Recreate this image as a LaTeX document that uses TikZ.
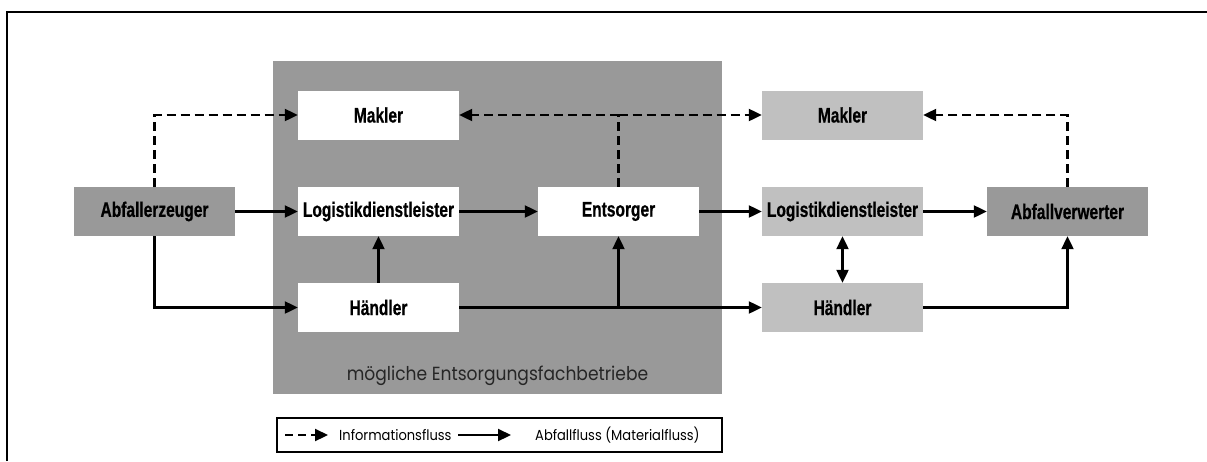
\documentclass[tikz,border=0pt]{standalone}
\usepackage{fontspec}
\usetikzlibrary{arrows.meta}
\newfontfamily\boxfont{Liberation Sans}[FakeStretch=0.74, FakeBold=0.6]
\newfontfamily\plainfont{Poppins}[FakeStretch=0.9]
\definecolor{darkgrey}{HTML}{999999}
\definecolor{lightgrey}{HTML}{C0C0C0}
\tikzset{
  actor/.style={minimum width=161pt, minimum height=49pt, inner sep=0pt,
    font=\boxfont\bfseries\fontsize{21}{21}\selectfont, text=black},
  whitebox/.style={actor, fill=white},
  darkbox/.style={actor, fill=darkgrey},
  lightbox/.style={actor, fill=lightgrey},
  flow/.style={line width=2.2pt, -{Triangle[length=13pt,width=12pt]}},
  info/.style={flow, dash pattern=on 9pt off 5pt},
  plainline/.style={line width=2.2pt},
}
\begin{document}
\begin{tikzpicture}[x=1pt,y=-1pt]
\useasboundingbox (0,0) rectangle (1207,461);
% open frame: top and left edge
\draw[line width=2.5pt] (7,461) -- (7,12) -- (1207,12);
% group of possible waste management companies
\fill[darkgrey] (273,61) rectangle (722,394);
\node[font=\plainfont\fontsize{19}{19}\selectfont, text=black!85] (grp) at (497.5,376) {mögliche Entsorgungsfachbetriebe};

% actors
\node[darkbox]  (erz)  at (154.5,211.5) {Abfallerzeuger};
\node[whitebox] (mak1) at (378.5,115)   {Makler};
\node[whitebox] (log1) at (378.5,211.5) {Logistikdienstleister};
\node[whitebox] (hd1)  at (378.5,307.5) {Händler};
\node[whitebox] (ent)  at (618.5,211.5) {Entsorger};
\node[lightbox] (mak2) at (842.5,115)   {Makler};
\node[lightbox] (log2) at (842.5,211.5) {Logistikdienstleister};
\node[lightbox] (hd2)  at (842.5,307.5) {Händler};
\node[darkbox]  (ver)  at (1067.5,211.5){Abfallverwerter};

% information flows
\draw[info] (erz.north) |- (mak1.west);
\coordinate (ij) at (ent.north |- mak1.east);
\draw[plainline, dash pattern=on 9pt off 5pt] (ent.north) -- (ij);
\draw[info] (ij) -- (mak1.east);
\draw[info] (ij) -- (mak2.west);
\draw[info] (ver.north) |- (mak2.east);

% material flows
\draw[flow] (erz) -- (log1);
\draw[flow] (erz.south) |- (hd1.west);
\draw[flow] (hd1) -- (log1);
\draw[flow] (log1) -- (ent);
\draw[flow] (ent) -- (log2);
\draw[flow] (log2) -- (ver);
\draw[flow] (hd1) -- (hd2);
\coordinate (mj) at (ent.south |- hd1.east);
\draw[flow] (mj) -- (ent.south);
\draw[line width=2.2pt, {Triangle[length=13pt,width=12pt]}-{Triangle[length=13pt,width=12pt]}] (log2) -- (hd2);
\draw[flow] (hd2.east) -| (ver.south);

% legend
\node[draw, line width=2pt, minimum width=445pt, minimum height=34pt, inner sep=0pt] (leg) at (499.5,435) {};
\coordinate (l1a) at (285,435);
\coordinate (l1b) at (328,435);
\coordinate (l2a) at (458,435);
\coordinate (l2b) at (511,435);
\draw[info, dash pattern=on 8pt off 5pt] (l1a) -- (l1b);
\draw[flow] (l2a) -- (l2b);
\node[anchor=west, inner sep=0pt, font=\plainfont\fontsize{14.5}{14.5}\selectfont] (lt1) at (339,435) {Informationsfluss};
\node[anchor=west, inner sep=0pt, font=\plainfont\fontsize{14.5}{14.5}\selectfont] (lt2) at (535,435) {Abfallfluss (Materialfluss)};
\end{tikzpicture}
\end{document}
